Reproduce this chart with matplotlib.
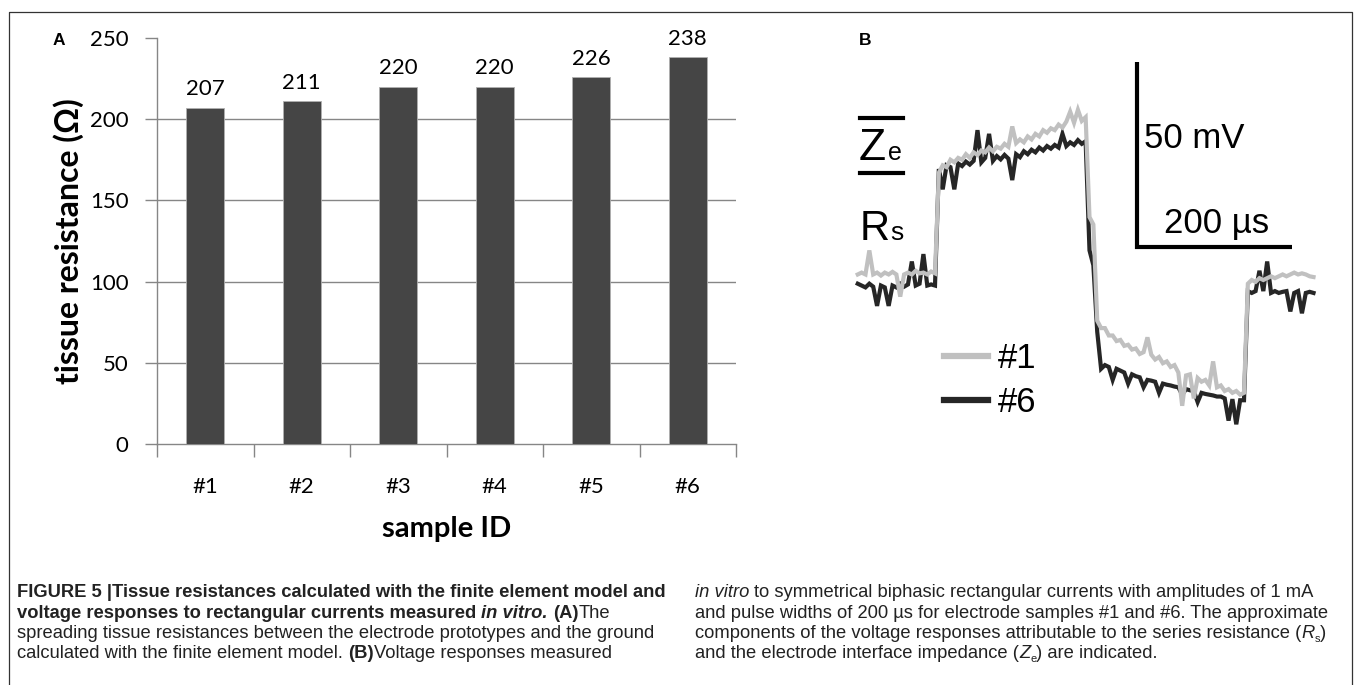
import numpy as np
import matplotlib
matplotlib.use("Agg")
import matplotlib.pyplot as plt
from matplotlib.lines import Line2D

W, H = 1355, 685

# panel A: spreading tissue resistance per electrode sample
SAMPLES = ["#1", "#2", "#3", "#4", "#5", "#6"]
RESISTANCE = [207, 211, 220, 220, 226, 238]

# panel B: voltage traces (mV, relative to the #1 baseline), one sample every 5 us
DT_US = 5
TRACE_1 = [
    1.5, 2, 1.5, 8, 1.5, 2, 1.2, 2, 1.5, 2.2, 1.5, -4.5, 1.5, 2, 1.5, 2.5, 1.8, 2, 1.5, 2.3, 1.8,
    29, 31, 30.5, 32.5, 31.8, 33, 32.5, 34, 33, 34.5, 33.8, 35, 34.5, 35.8, 34.8, 36, 35.5, 36.8,
    36, 41.5, 37, 38, 37.2, 38.8, 38, 39.5, 38.8, 40.5, 39.8, 41, 40.5, 42, 41.2, 42.8, 45.5, 42.5,
    46, 43, 44,
    17, 15,
    -11, -13, -13, -15, -15, -16.5, -16.2, -17.8, -17.5, -18.8, -18.5, -20, -19.5, -15.5, -20.2,
    -21.5, -20.8, -22.5, -22, -23.5, -23, -25, -34, -25.8, -25.5, -32, -26.5, -27.5, -27, -28.5,
    -22, -29, -28.5, -30, -29.5, -30.5, -30, -31, -30.5,
    -1, 0, -0.5, 0.5, 0, 0.5, 1, 0.5, 1, 1.5, 1, 1.5, 2, 1.5, 1.8, 1.5, 1, 0.8,
]
TRACE_6 = [
    -1, -1.5, -2, -1, -1.8, -7, -1.5, -2, -7, -1.5, -2, -1, -1.8, -1.2, 5, -1.5, -1, 7, -1.5, -1.2, -1.5,
    30, 24.5, 31, 30.5, 24.5, 31.5, 30.8, 32, 31.2, 32.2, 40.5, 31.8, 33, 39.5, 32.2, 33.5, 32.6,
    33.8, 32.8, 27, 34, 33.2, 34.8, 34, 35.2, 34.5, 35.8, 35, 36.2, 35.5, 36.5, 35.8, 39.5, 36.2,
    37.2, 36.5, 37.8, 36.8, 37.5,
    8, 4,
    -14, -24, -23, -23.5, -27, -24, -24.5, -25, -28, -25.5, -26, -26.3, -29, -27, -27.2, -27.5, -30.5,
    -28, -28.3, -28.5, -28.8, -29, -31, -29.5, -29.8, -30, -33, -30.5, -30.8, -31, -31.2, -31.5,
    -31.5, -32, -38, -32.2, -39, -32.5, -32.5,
    -3, -3.5, -3, 2.5, -3, 5, -3.5, -3, -3.5, -3.2, -3, -8.5, -3.5, -3, -9, -3.5, -3.2, -3.5,
]
TRACE_LABELS = ["#1", "#6"]

CAPTION_LEFT = [
    [("FIGURE 5 |Tissue resistances calculated with the finite element model and", "b")],
    [("voltage responses to rectangular currents measured ", "b"), ("in vitro.", "bi"),
     (" (A)", "b"), ("The", "r")],
    [("spreading tissue resistances between the electrode prototypes and the ground", "r")],
    [("calculated with the finite element model. ", "r"), ("(B)", "b"),
     ("Voltage responses measured", "r")],
]
CAPTION_RIGHT = [
    [("in vitro", "i"), (" to symmetrical biphasic rectangular currents with amplitudes of 1 mA", "r")],
    [("and pulse widths of 200 µs for electrode samples #1 and #6. The approximate", "r")],
    [("components of the voltage responses attributable to the series resistance (", "r"),
     ("R", "i"), ("s", "sub"), (")", "r")],
    [("and the electrode interface impedance (", "r"), ("Z", "i"), ("e", "sub"),
     (") are indicated.", "r")],
]

SANS_A = ["Lato", "DejaVu Sans"]
ARIAL = ["Liberation Sans", "DejaVu Sans"]
NARROW = ["Liberation Sans Narrow", "Liberation Sans", "DejaVu Sans"]
GRID = "#868686"


def fx(x):
    return x / W


def fy(y):
    return 1 - y / H


fig = plt.figure(figsize=(W / 100, H / 100), dpi=100)
renderer = fig.canvas.get_renderer()

# ---------------- panel A ----------------
axA = fig.add_axes([fx(157), fy(444), fx(736) - fx(157), fy(38) - fy(444)])
xpos = np.arange(len(SAMPLES))
bars = axA.bar(xpos, RESISTANCE, width=0.394, color="#454545", edgecolor="#b0b0b0",
               linewidth=0.6, zorder=3)
axA.bar_label(bars, labels=[str(v) for v in RESISTANCE], padding=6, fontsize=16,
              family=SANS_A)
axA.set_xlim(-0.5, len(SAMPLES) - 0.5)
axA.set_ylim(0, 250)
axA.set_yticks(range(0, 251, 50))
axA.set_yticklabels([str(v) for v in range(0, 251, 50)], family=SANS_A, fontsize=16)
axA.set_xticks(xpos)
axA.set_xticklabels(SAMPLES, family=SANS_A, fontsize=16)
axA.set_xticks(np.arange(-0.5, len(SAMPLES)), minor=True)
axA.tick_params(axis="x", which="major", length=0, pad=24)
axA.tick_params(axis="x", which="minor", length=9, width=1, color=GRID, direction="out")
axA.tick_params(axis="y", length=9, width=1, color=GRID, direction="out", pad=11.5)
for y in range(50, 201, 50):
    axA.axhline(y, color=GRID, lw=1, zorder=1)
for s in ("top", "right"):
    axA.spines[s].set_visible(False)
for s in ("left", "bottom"):
    axA.spines[s].set_color(GRID)
    axA.spines[s].set_linewidth(1)
axA.set_ylabel("tissue resistance (Ω)", family=SANS_A, fontsize=23, fontweight="bold")
axA.yaxis.set_label_coords((84 - 157) / 579, 0.5)
axA.set_xlabel("sample ID", family=SANS_A, fontsize=21, fontweight="bold")
axA.xaxis.set_label_coords(0.5, (444 - 516) / 406)
fig.text(fx(53), fy(45), "A", family=ARIAL, fontsize=12.5, fontweight="bold", va="baseline")

# ---------------- panel B ----------------
# pixel mapping: x = 857.75 + 0.7725 * t, y = 280 - 3.7 * v
bx0, bx1, by0, by1 = 850, 1340, 40, 440
axB = fig.add_axes([fx(bx0), fy(by1), fx(bx1) - fx(bx0), fy(by0) - fy(by1)])
axB.set_xlim((bx0 - 857.75) / 0.7725, (bx1 - 857.75) / 0.7725)
axB.set_ylim((280 - by1) / 3.7, (280 - by0) / 3.7)
axB.axis("off")
t = np.arange(len(TRACE_1)) * DT_US
axB.plot(t, TRACE_6, color="#262626", lw=3.0, solid_joinstyle="miter", zorder=2)
axB.plot(t, TRACE_1, color="#c0c0c0", lw=3.0, solid_joinstyle="miter", zorder=3)
# scale bars: 50 mV, 200 us
axB.plot([362, 362, 562], [59, 9, 9], color="black", lw=3, solid_joinstyle="miter",
         solid_capstyle="butt")
fig.text(fx(1144), fy(148), "50 mV", family=ARIAL, fontsize=25, va="baseline")
fig.text(fx(1164), fy(233), "200 µs", family=ARIAL, fontsize=25, va="baseline")

handles = [Line2D([], [], color="#c0c0c0", lw=4.5), Line2D([], [], color="#262626", lw=4.5)]
axB.legend(handles, TRACE_LABELS, loc="upper left", frameon=False,
           bbox_to_anchor=(fx(944), fy(342)), bbox_transform=fig.transFigure,
           borderpad=0, borderaxespad=0, handlelength=1.27, handletextpad=0.29,
           labelspacing=0.33, prop={"family": ARIAL, "size": 25})

# Ze / Rs annotations
fig.text(fx(859), fy(160), "Z", family=ARIAL, fontsize=32, va="baseline")
fig.text(fx(888), fy(160), "e", family=ARIAL, fontsize=18, va="baseline")
fig.add_artist(Line2D([fx(860), fx(903)], [fy(118), fy(118)], color="black", lw=3))
fig.add_artist(Line2D([fx(860), fx(903)], [fy(173), fy(173)], color="black", lw=3))
fig.text(fx(860), fy(240), "R", family=ARIAL, fontsize=30, va="baseline")
fig.text(fx(890), fy(240), "s", family=ARIAL, fontsize=19, va="baseline")
fig.text(fx(859), fy(45), "B", family=ARIAL, fontsize=12.5, fontweight="bold", va="baseline")

# ---------------- frame ----------------
fig.add_artist(Line2D([fx(9), fx(9), fx(1352), fx(1352)], [0, fy(12), fy(12), 0],
                      color="#333333", lw=0.9))

# ---------------- caption ----------------
CAP_SIZE = 13.2
STYLES = {
    "r": dict(fontweight="normal", fontstyle="normal"),
    "b": dict(fontweight="bold", fontstyle="normal"),
    "i": dict(fontweight="normal", fontstyle="italic"),
    "bi": dict(fontweight="bold", fontstyle="italic"),
    "sub": dict(fontweight="normal", fontstyle="normal"),
}


def text_width(s, **kw):
    tt = fig.text(0, 0, s, family=NARROW, **kw)
    w = tt.get_window_extent(renderer).width
    tt.remove()
    return w


space_w = text_width("a a", fontsize=CAP_SIZE) - text_width("aa", fontsize=CAP_SIZE)


def caption_line(x, y, pieces):
    for s, style in pieces:
        lead = len(s) - len(s.lstrip(" "))
        trail = len(s) - len(s.rstrip(" "))
        x += lead * space_w
        core = s.strip(" ")
        size = CAP_SIZE * 0.6 if style == "sub" else CAP_SIZE
        dy = 4 if style == "sub" else 0
        tt = fig.text(fx(x), fy(y + dy), core, family=NARROW, fontsize=size,
                      va="baseline", color="#222222", **STYLES[style])
        x += tt.get_window_extent(renderer).width + trail * space_w


for k, line in enumerate(CAPTION_LEFT):
    caption_line(17, 597 + 20.5 * k, line)
for k, line in enumerate(CAPTION_RIGHT):
    caption_line(695, 597 + 20.5 * k, line)

fig.savefig("out.png", dpi=100, facecolor="white")
